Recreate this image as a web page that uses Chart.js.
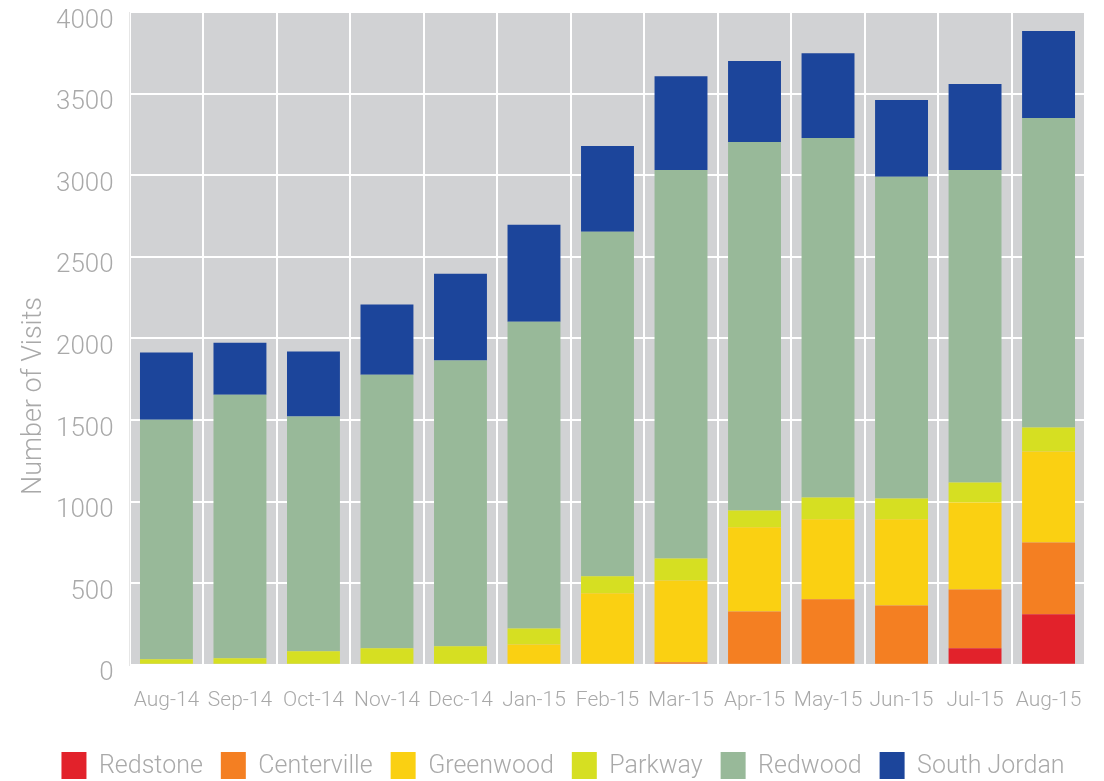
<!DOCTYPE html>
<html>
<head>
<meta charset="utf-8">
<script src="https://cdn.jsdelivr.net/npm/chart.js@4.4.0/dist/chart.umd.min.js"></script>
<style>
html, body { margin:0; padding:0; background:#fff; }
#wrap { width:1104px; height:781px; }
</style>
</head>
<body>
<div id="wrap"><canvas id="chartCanvas" width="1104" height="781"></canvas></div>
<script>
// visits per location, per month
const months = ["Aug-14","Sep-14","Oct-14","Nov-14","Dec-14","Jan-15","Feb-15","Mar-15","Apr-15","May-15","Jun-15","Jul-15","Aug-15"];
const redstone    = [0, 0, 0, 0, 0, 0, 0, 0, 0, 0, 0, 101, 309];
const centerville = [0, 0, 0, 0, 0, 0, 0, 15, 327, 401, 364, 361, 441];
const greenwood   = [0, 0, 0, 0, 0, 125, 439, 502, 516, 491, 528, 533, 557];
const parkway     = [34, 40, 83, 101, 113, 98, 103, 135, 103, 133, 127, 122, 147];
const redwood     = [1468, 1615, 1438, 1677, 1751, 1879, 2111, 2380, 2258, 2203, 1971, 1915, 1897];
const southJordan = [411, 319, 398, 429, 532, 594, 526, 575, 495, 520, 471, 527, 532];
const yTicks = [0, 500, 1000, 1500, 2000, 2500, 3000, 3500, 4000];

const FONT = "'Roboto Light', Roboto";
const textGrey = "#a9a9a9";

// grey fill behind the plot area
const plotBackground = {
    id: "plotBackground",
    beforeDraw(chart){
        const {ctx, chartArea} = chart;
        ctx.save();
        ctx.fillStyle = "#d1d2d4";
        ctx.fillRect(chartArea.left, chartArea.top, chartArea.right - chartArea.left, chartArea.bottom - chartArea.top);
        ctx.restore();
    }
};

// y axis title sits a bit below the middle of the plot
const axisTitle = {
    id: "axisTitle",
    afterDraw(chart){
        const ctx = chart.ctx;
        ctx.save();
        ctx.translate(33, 396);
        ctx.rotate(-Math.PI / 2);
        ctx.font = "300 27px " + FONT;
        ctx.fillStyle = textGrey;
        ctx.textAlign = "center";
        ctx.textBaseline = "middle";
        ctx.fillText("Number of Visits", 0, 0);
        ctx.restore();
    }
};

function makeSet(label, data, color){
    return {label: label, data: data, backgroundColor: color, borderWidth: 0,
            categoryPercentage: 1, barPercentage: 0.72};
}

let ctx = document.getElementById("chartCanvas").getContext("2d");
let chartInstance = new Chart(ctx, {
    type: "bar",
    data: {
        labels: months,
        datasets: [
            makeSet("Redstone", redstone, "#e2222b"),
            makeSet("Centerville", centerville, "#f47f22"),
            makeSet("Greenwood", greenwood, "#fad012"),
            makeSet("Parkway", parkway, "#d6df22"),
            makeSet("Redwood", redwood, "#98b999"),
            makeSet("South Jordan", southJordan, "#1c459b")
        ]
    },
    options: {
        responsive: false,
        animation: false,
        layout: { padding: { left: 40, right: 18, top: 12, bottom: -8 } },
        plugins: {
            tooltip: { enabled: false },
            legend: {
                position: "bottom",
                labels: {
                    boxWidth: 25, boxHeight: 27, padding: 18,
                    color: textGrey,
                    font: { family: FONT, size: 25, weight: "300" }
                }
            }
        },
        scales: {
            x: {
                stacked: true,
                grid: { color: "#ffffff", lineWidth: 2, drawTicks: false, offset: true },
                border: { display: false },
                ticks: {
                    color: textGrey, padding: 22, maxRotation: 0, autoSkip: false,
                    font: { family: FONT, size: 21, weight: "300" }
                }
            },
            y: {
                stacked: true,
                min: 0, max: 4000,
                afterBuildTicks: axis => { axis.ticks = yTicks.map(v => ({value: v})); },
                afterFit: axis => { axis.paddingTop = 0; axis.paddingBottom = 0; },
                grid: { color: "#ffffff", lineWidth: 2, drawTicks: false },
                border: { display: true, color: "#e6e6e6", width: 1 },
                ticks: {
                    color: textGrey, padding: 16, labelOffset: 8,
                    callback: value => String(value),
                    font: { family: FONT, size: 26, weight: "300" }
                }
            }
        }
    },
    plugins: [plotBackground, axisTitle]
});
</script>
</body>
</html>
